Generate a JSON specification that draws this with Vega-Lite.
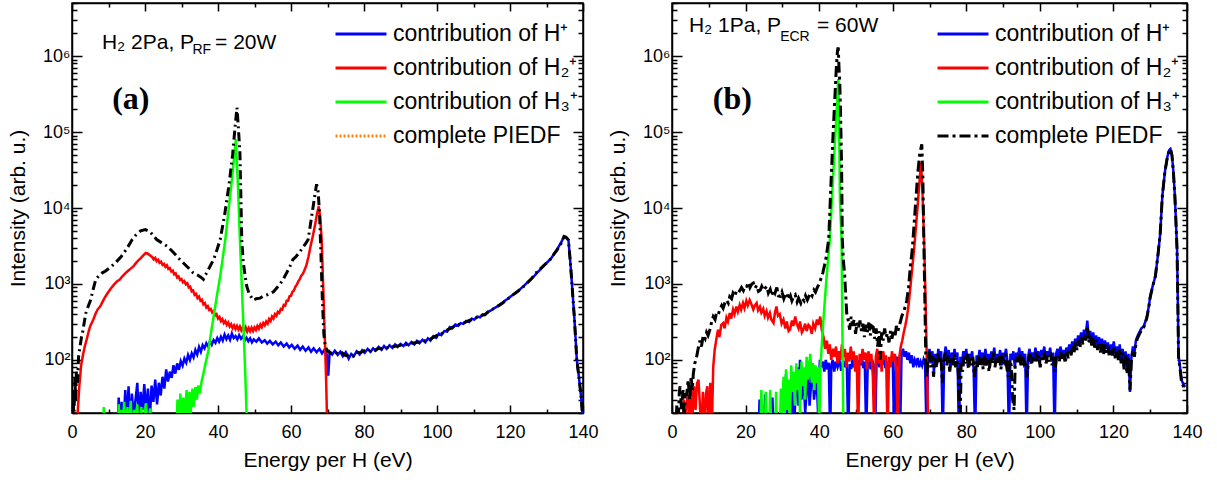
{
"$schema": "https://vega.github.io/schema/vega-lite/v6.json",
"background": "white",
"padding": {"left": 6, "top": 1, "right": 5, "bottom": 5},
"spacing": 89,
"bounds": "flush",
"resolve": {"scale": {"color": "independent"}, "legend": {"color": "independent"}},
"config": {
  "font": "Liberation Sans",
  "view": {"stroke": "black", "strokeWidth": 1.5},
  "axis": {"domainColor": "black", "domainWidth": 1.5, "tickColor": "black", "tickWidth": 1.5, "labelColor": "black", "titleColor": "black", "labelFont": "Liberation Sans", "titleFont": "Liberation Sans", "labelFontSize": 18, "titleFontSize": 21, "titleFontWeight": "normal", "grid": false, "labelOverlap": false, "labelFlush": false},
  "legend": {"labelFont": "Liberation Sans", "labelFontSize": 23, "labelColor": "black", "symbolType": "stroke", "symbolSize": 2600, "symbolStrokeWidth": 3, "symbolOpacity": 1, "labelOffset": 5, "rowPadding": 4, "clipHeight": 30, "padding": 0, "labelLimit": 400}
},
"datasets": {
"aH1": [{"x":12.4,"y":10},{"x":12.8,"y":32},{"x":13.1,"y":11},{"x":13.6,"y":28},{"x":14.0,"y":10},{"x":14.6,"y":40},{"x":15.0,"y":14},{"x":15.5,"y":45},{"x":15.9,"y":12},{"x":16.4,"y":36},{"x":16.9,"y":18},{"x":17.4,"y":30},{"x":17.9,"y":50},{"x":18.3,"y":15},{"x":18.8,"y":38},{"x":19.3,"y":22},{"x":19.8,"y":48},{"x":20.3,"y":20},{"x":20.8,"y":42},{"x":21.3,"y":16},{"x":21.8,"y":46},{"x":22.3,"y":28},{"x":22.8,"y":55},{"x":23.3,"y":26},{"x":23.8,"y":50},{"x":24.3,"y":34},{"x":24.8,"y":60},{"x":25.3,"y":42},{"x":25.8,"y":75},{"x":26.3,"y":52},{"x":26.8,"y":70},{"x":27.3,"y":58},{"x":27.8,"y":85},{"x":28.3,"y":66},{"x":28.8,"y":90},{"x":29.3,"y":74},{"x":29.8,"y":96},{"x":30.3,"y":84},{"x":30.8,"y":104},{"x":31.3,"y":92},{"x":31.8,"y":116},{"x":32.3,"y":100},{"x":32.8,"y":122},{"x":33.3,"y":108},{"x":33.8,"y":135},{"x":34.3,"y":118},{"x":34.8,"y":148},{"x":35.3,"y":128},{"x":35.8,"y":156},{"x":36.3,"y":142},{"x":36.8,"y":166},{"x":37.3,"y":150},{"x":37.8,"y":176},{"x":38.3,"y":158},{"x":38.8,"y":182},{"x":39.3,"y":168},{"x":39.8,"y":194},{"x":40.3,"y":174},{"x":40.8,"y":202},{"x":41.3,"y":180},{"x":41.8,"y":216},{"x":42.3,"y":188},{"x":42.8,"y":210},{"x":43.3,"y":184},{"x":43.8,"y":222},{"x":44.3,"y":194},{"x":44.8,"y":206},{"x":45.3,"y":186},{"x":45.8,"y":212},{"x":46.3,"y":190},{"x":46.8,"y":204},{"x":47.3,"y":180},{"x":47.8,"y":196},{"x":48.3,"y":176},{"x":48.8,"y":192},{"x":49.3,"y":170},{"x":49.8,"y":186},{"x":50.5,"y":174},{"x":51.2,"y":192},{"x":52.0,"y":170},{"x":52.8,"y":182},{"x":53.5,"y":164},{"x":54.2,"y":178},{"x":55.0,"y":160},{"x":55.8,"y":174},{"x":56.5,"y":156},{"x":57.2,"y":170},{"x":58.0,"y":150},{"x":58.8,"y":164},{"x":59.5,"y":146},{"x":60.2,"y":158},{"x":61.0,"y":140},{"x":61.8,"y":154},{"x":62.5,"y":136},{"x":63.2,"y":150},{"x":64.0,"y":132},{"x":64.8,"y":146},{"x":65.5,"y":128},{"x":66.2,"y":142},{"x":67.0,"y":126},{"x":67.8,"y":140},{"x":68.5,"y":122},{"x":69.2,"y":136},{"x":69.8,"y":118},{"x":70.2,"y":62},{"x":70.6,"y":128},{"x":71.3,"y":118},{"x":72.0,"y":132},{"x":72.8,"y":116},{"x":73.5,"y":128},{"x":74.2,"y":112},{"x":75.0,"y":126},{"x":75.8,"y":104},{"x":76.5,"y":120},{"x":77.2,"y":112},{"x":78.0,"y":130},{"x":78.8,"y":118},{"x":79.5,"y":134},{"x":80.2,"y":124},{"x":81.0,"y":140},{"x":81.8,"y":128},{"x":82.5,"y":142},{"x":83.2,"y":132},{"x":84.0,"y":148},{"x":84.8,"y":136},{"x":85.5,"y":152},{"x":86.2,"y":140},{"x":87.0,"y":156},{"x":87.8,"y":144},{"x":88.5,"y":160},{"x":89.2,"y":148},{"x":90.0,"y":162},{"x":90.8,"y":152},{"x":91.5,"y":168},{"x":92.2,"y":156},{"x":93.0,"y":172},{"x":93.8,"y":160},{"x":94.5,"y":178},{"x":95.2,"y":166},{"x":96.0,"y":184},{"x":96.8,"y":170},{"x":97.5,"y":192},{"x":98.2,"y":180},{"x":99.0,"y":206},{"x":99.8,"y":196},{"x":100.5,"y":222},{"x":101.2,"y":212},{"x":102.0,"y":240},{"x":102.8,"y":236},{"x":103.5,"y":270},{"x":104.2,"y":262},{"x":105.0,"y":292},{"x":105.8,"y":282},{"x":106.5,"y":305},{"x":107.2,"y":298},{"x":108.0,"y":326},{"x":108.8,"y":316},{"x":109.5,"y":348},{"x":110.2,"y":340},{"x":111.0,"y":372},{"x":111.8,"y":364},{"x":112.5,"y":398},{"x":113.2,"y":392},{"x":114.0,"y":430},{"x":114.8,"y":448},{"x":115.5,"y":475},{"x":116.2,"y":495},{"x":117.0,"y":528},{"x":117.8,"y":560},{"x":118.5,"y":598},{"x":119.2,"y":630},{"x":120.0,"y":672},{"x":120.8,"y":720},{"x":121.5,"y":765},{"x":122.2,"y":805},{"x":123.0,"y":875},{"x":123.8,"y":945},{"x":124.5,"y":1015},{"x":125.2,"y":1095},{"x":126.0,"y":1195},{"x":126.8,"y":1300},{"x":127.5,"y":1420},{"x":128.2,"y":1530},{"x":129.0,"y":1680},{"x":129.8,"y":1850},{"x":130.5,"y":1990},{"x":131.2,"y":2150},{"x":132.0,"y":2450},{"x":132.8,"y":2800},{"x":133.5,"y":3200},{"x":134.2,"y":3650},{"x":134.8,"y":4250},{"x":135.3,"y":4150},{"x":135.7,"y":3950},{"x":136.0,"y":3800},{"x":136.4,"y":2300},{"x":136.8,"y":1300},{"x":137.2,"y":700},{"x":137.6,"y":380},{"x":138.0,"y":180},{"x":138.3,"y":100},{"x":138.7,"y":70},{"x":139.1,"y":48},{"x":139.5,"y":32},{"x":139.9,"y":18}],
"aH2": [{"x":1.2,"y":10},{"x":1.6,"y":22},{"x":2.0,"y":45},{"x":2.5,"y":85},{"x":3.1,"y":122},{"x":3.5,"y":150},{"x":4.0,"y":184},{"x":4.5,"y":230},{"x":5.0,"y":280},{"x":5.8,"y":336},{"x":6.5,"y":410},{"x":7.0,"y":460},{"x":7.7,"y":505},{"x":8.5,"y":600},{"x":9.2,"y":690},{"x":10.0,"y":790},{"x":10.7,"y":880},{"x":11.5,"y":980},{"x":12.3,"y":1080},{"x":13.1,"y":1140},{"x":13.8,"y":1260},{"x":14.6,"y":1380},{"x":15.3,"y":1480},{"x":16.0,"y":1580},{"x":16.8,"y":1700},{"x":17.5,"y":1880},{"x":18.2,"y":2050},{"x":18.9,"y":2200},{"x":19.6,"y":2400},{"x":20.2,"y":2560},{"x":20.8,"y":2500},{"x":21.5,"y":2350},{"x":22.0,"y":2250},{"x":22.4,"y":2100},{"x":22.8,"y":2200},{"x":23.2,"y":2000},{"x":23.6,"y":2080},{"x":24.0,"y":1900},{"x":24.4,"y":1960},{"x":24.8,"y":1780},{"x":25.2,"y":1840},{"x":25.6,"y":1680},{"x":26.0,"y":1760},{"x":26.4,"y":1580},{"x":26.8,"y":1620},{"x":27.2,"y":1460},{"x":27.6,"y":1500},{"x":28.0,"y":1340},{"x":28.4,"y":1380},{"x":28.8,"y":1220},{"x":29.2,"y":1260},{"x":29.6,"y":1130},{"x":30.0,"y":1160},{"x":30.4,"y":1050},{"x":30.8,"y":1090},{"x":31.2,"y":990},{"x":31.6,"y":1020},{"x":32.0,"y":900},{"x":32.4,"y":920},{"x":32.8,"y":800},{"x":33.2,"y":820},{"x":33.6,"y":720},{"x":34.0,"y":740},{"x":34.4,"y":650},{"x":34.8,"y":680},{"x":35.2,"y":600},{"x":35.6,"y":620},{"x":36.0,"y":540},{"x":36.4,"y":560},{"x":36.8,"y":490},{"x":37.2,"y":510},{"x":37.6,"y":455},{"x":38.0,"y":470},{"x":38.4,"y":420},{"x":38.8,"y":440},{"x":39.2,"y":385},{"x":39.6,"y":400},{"x":40.0,"y":350},{"x":40.4,"y":368},{"x":40.8,"y":325},{"x":41.2,"y":345},{"x":41.6,"y":305},{"x":42.0,"y":325},{"x":42.4,"y":290},{"x":42.8,"y":310},{"x":43.2,"y":275},{"x":43.6,"y":295},{"x":44.0,"y":262},{"x":44.4,"y":285},{"x":44.8,"y":255},{"x":45.2,"y":280},{"x":45.6,"y":250},{"x":46.0,"y":275},{"x":46.4,"y":245},{"x":46.8,"y":270},{"x":47.2,"y":240},{"x":47.6,"y":268},{"x":48.0,"y":236},{"x":48.4,"y":262},{"x":48.8,"y":238},{"x":49.2,"y":265},{"x":49.6,"y":240},{"x":50.0,"y":268},{"x":50.4,"y":248},{"x":50.8,"y":280},{"x":51.2,"y":258},{"x":51.6,"y":292},{"x":52.0,"y":270},{"x":52.4,"y":305},{"x":52.8,"y":285},{"x":53.2,"y":320},{"x":53.6,"y":300},{"x":54.0,"y":345},{"x":54.4,"y":325},{"x":54.8,"y":372},{"x":55.2,"y":350},{"x":55.6,"y":400},{"x":56.0,"y":380},{"x":56.4,"y":430},{"x":56.8,"y":415},{"x":57.2,"y":470},{"x":57.6,"y":460},{"x":58.0,"y":530},{"x":58.4,"y":520},{"x":58.8,"y":600},{"x":59.2,"y":600},{"x":59.6,"y":690},{"x":60.0,"y":700},{"x":60.4,"y":790},{"x":60.8,"y":820},{"x":61.2,"y":920},{"x":61.6,"y":980},{"x":62.0,"y":1080},{"x":62.4,"y":1160},{"x":62.8,"y":1280},{"x":63.2,"y":1350},{"x":63.6,"y":1480},{"x":64.2,"y":1750},{"x":64.8,"y":2300},{"x":65.4,"y":3200},{"x":66.0,"y":4300},{"x":66.6,"y":6000},{"x":67.1,"y":8300},{"x":67.6,"y":10500},{"x":68.0,"y":7500},{"x":68.4,"y":3800},{"x":68.8,"y":1000},{"x":69.2,"y":250},{"x":69.6,"y":60},{"x":69.9,"y":15}],
"aH3": [{"x":8.5,"y":10},{"x":8.7,"y":24},{"x":8.9,"y":10},{"x":12.6,"y":10},{"x":12.8,"y":26},{"x":13.1,"y":10},{"x":13.5,"y":22},{"x":13.8,"y":10},{"x":14.3,"y":28},{"x":14.6,"y":10},{"x":15.2,"y":24},{"x":15.5,"y":10},{"x":16.1,"y":29},{"x":16.4,"y":10},{"x":17.0,"y":22},{"x":17.3,"y":10},{"x":17.9,"y":26},{"x":18.2,"y":10},{"x":19.0,"y":24},{"x":19.3,"y":10},{"x":20.3,"y":27},{"x":20.6,"y":10},{"x":21.4,"y":23},{"x":21.7,"y":10},{"x":28.6,"y":10},{"x":28.9,"y":30},{"x":29.2,"y":12},{"x":29.7,"y":36},{"x":30.0,"y":14},{"x":30.5,"y":32},{"x":30.8,"y":16},{"x":31.4,"y":40},{"x":31.7,"y":18},{"x":32.2,"y":38},{"x":32.5,"y":20},{"x":33.0,"y":42},{"x":33.3,"y":24},{"x":33.8,"y":44},{"x":34.2,"y":30},{"x":34.6,"y":46},{"x":35.0,"y":36},{"x":35.5,"y":52},{"x":36.0,"y":66},{"x":36.7,"y":95},{"x":37.4,"y":135},{"x":38.1,"y":230},{"x":38.8,"y":372},{"x":39.7,"y":700},{"x":40.6,"y":1260},{"x":41.3,"y":2200},{"x":42.0,"y":3840},{"x":43.0,"y":10500},{"x":44.0,"y":29000},{"x":44.9,"y":80000},{"x":45.5,"y":18000},{"x":46.0,"y":3840},{"x":46.5,"y":1000},{"x":47.0,"y":260},{"x":47.5,"y":60},{"x":47.9,"y":15}],
"aT": [{"x":0.0,"y":10},{"x":0.3,"y":40},{"x":0.5,"y":15},{"x":0.8,"y":60},{"x":1.0,"y":28},{"x":1.2,"y":70},{"x":1.5,"y":50},{"x":1.8,"y":110},{"x":2.2,"y":150},{"x":2.6,"y":200},{"x":2.9,"y":230},{"x":3.4,"y":320},{"x":3.8,"y":414},{"x":4.4,"y":500},{"x":5.1,"y":614},{"x":5.8,"y":850},{"x":6.5,"y":1140},{"x":7.5,"y":1300},{"x":8.3,"y":1400},{"x":9.1,"y":1470},{"x":10.5,"y":1650},{"x":11.9,"y":1900},{"x":13.5,"y":2300},{"x":15.0,"y":2900},{"x":16.5,"y":3840},{"x":17.5,"y":4400},{"x":18.8,"y":5000},{"x":20.1,"y":5200},{"x":21.3,"y":4900},{"x":22.2,"y":4400},{"x":23.2,"y":3840},{"x":24.5,"y":3500},{"x":26.0,"y":3160},{"x":27.8,"y":2600},{"x":29.6,"y":2090},{"x":31.5,"y":1700},{"x":33.2,"y":1400},{"x":34.5,"y":1300},{"x":35.3,"y":1230},{"x":36.0,"y":1150},{"x":36.5,"y":1300},{"x":36.9,"y":1400},{"x":37.8,"y":1700},{"x":38.8,"y":2090},{"x":39.7,"y":2800},{"x":40.6,"y":3840},{"x":41.8,"y":8000},{"x":43.0,"y":20000},{"x":44.0,"y":50000},{"x":44.7,"y":120000},{"x":45.2,"y":210000},{"x":45.6,"y":110000},{"x":46.0,"y":54000},{"x":46.3,"y":12000},{"x":46.5,"y":3840},{"x":46.9,"y":2000},{"x":47.4,"y":1300},{"x":47.9,"y":930},{"x":48.5,"y":750},{"x":49.6,"y":614},{"x":50.5,"y":640},{"x":51.5,"y":650},{"x":52.5,"y":700},{"x":53.5,"y":720},{"x":54.5,"y":760},{"x":55.2,"y":790},{"x":56.2,"y":900},{"x":57.0,"y":1000},{"x":57.8,"y":1140},{"x":58.8,"y":1400},{"x":59.7,"y":1700},{"x":60.5,"y":2090},{"x":61.4,"y":2300},{"x":62.2,"y":2560},{"x":63.1,"y":2950},{"x":64.0,"y":3400},{"x":64.7,"y":3840},{"x":65.5,"y":6900},{"x":66.3,"y":12400},{"x":67.0,"y":20500},{"x":67.4,"y":17000},{"x":67.8,"y":9000},{"x":68.2,"y":2500},{"x":68.6,"y":600},{"x":69.0,"y":220},{"x":69.4,"y":150},{"x":70.0,"y":130},{"x":71,"y":122},{"x":72,"y":128},{"x":73,"y":118},{"x":74,"y":124},{"x":75,"y":114},{"x":76,"y":118},{"x":77,"y":112},{"x":78,"y":126},{"x":79,"y":124},{"x":80,"y":132},{"x":81,"y":128},{"x":82,"y":136},{"x":83,"y":134},{"x":84,"y":142},{"x":85,"y":140},{"x":86,"y":146},{"x":87,"y":146},{"x":88,"y":150},{"x":89,"y":152},{"x":90,"y":156},{"x":91,"y":158},{"x":92,"y":160},{"x":93,"y":166},{"x":94,"y":168},{"x":95,"y":172},{"x":96,"y":176},{"x":97,"y":180},{"x":98,"y":186},{"x":99,"y":198},{"x":100,"y":210},{"x":101,"y":218},{"x":102,"y":234},{"x":103,"y":250},{"x":104,"y":264},{"x":105,"y":284},{"x":106,"y":292},{"x":107,"y":300},{"x":108,"y":318},{"x":109,"y":334},{"x":110,"y":342},{"x":111,"y":364},{"x":112,"y":382},{"x":113,"y":392},{"x":114,"y":428},{"x":115,"y":458},{"x":116,"y":488},{"x":117,"y":522},{"x":118,"y":562},{"x":119,"y":615},{"x":120,"y":668},{"x":121,"y":730},{"x":122,"y":790},{"x":123,"y":865},{"x":124,"y":950},{"x":125,"y":1060},{"x":126,"y":1190},{"x":127,"y":1380},{"x":128,"y":1530},{"x":129,"y":1700},{"x":130,"y":1880},{"x":131,"y":2100},{"x":132,"y":2450},{"x":133,"y":2850},{"x":134,"y":3400},{"x":134.8,"y":4200},{"x":135.3,"y":4150},{"x":135.7,"y":3950},{"x":136.0,"y":3800},{"x":136.4,"y":2300},{"x":136.8,"y":1300},{"x":137.2,"y":700},{"x":137.6,"y":380},{"x":138.0,"y":180},{"x":138.3,"y":100},{"x":138.7,"y":70},{"x":139.1,"y":48},{"x":139.5,"y":32},{"x":139.9,"y":18}],
"bH1": [{"x":23.5,"y":10},{"x":23.8,"y":30},{"x":24.1,"y":10},{"x":25.0,"y":10},{"x":25.3,"y":35},{"x":25.6,"y":10},{"x":27.0,"y":10},{"x":27.3,"y":32},{"x":27.6,"y":10},{"x":29.8,"y":10},{"x":30.1,"y":40},{"x":30.4,"y":12},{"x":31.0,"y":65},{"x":31.3,"y":15},{"x":32.0,"y":45},{"x":32.3,"y":12},{"x":33.0,"y":55},{"x":33.3,"y":18},{"x":34.0,"y":80},{"x":34.4,"y":25},{"x":34.8,"y":100},{"x":35.2,"y":30},{"x":35.8,"y":60},{"x":36.2,"y":20},{"x":37.0,"y":70},{"x":37.4,"y":25},{"x":38.2,"y":90},{"x":38.6,"y":30},{"x":39.3,"y":60},{"x":39.7,"y":20},{"x":40.2,"y":100},{"x":40.6,"y":80},{"x":41.0,"y":95},{"x":41.4,"y":70},{"x":41.8,"y":100},{"x":42.2,"y":75},{"x":42.6,"y":92},{"x":43.0,"y":10},{"x":43.3,"y":85},{"x":43.7,"y":100},{"x":44.1,"y":70},{"x":44.5,"y":95},{"x":45.0,"y":80},{"x":45.5,"y":100},{"x":46.0,"y":72},{"x":46.5,"y":98},{"x":47.0,"y":80},{"x":47.5,"y":104},{"x":47.9,"y":10},{"x":48.3,"y":88},{"x":48.7,"y":76},{"x":49.1,"y":102},{"x":49.5,"y":80},{"x":50.0,"y":96},{"x":50.4,"y":70},{"x":50.8,"y":100},{"x":51.2,"y":85},{"x":51.6,"y":110},{"x":52.0,"y":78},{"x":52.4,"y":95},{"x":52.8,"y":10},{"x":53.2,"y":90},{"x":53.6,"y":105},{"x":54.0,"y":75},{"x":54.4,"y":100},{"x":54.8,"y":85},{"x":55.2,"y":10},{"x":55.6,"y":92},{"x":56.0,"y":108},{"x":56.4,"y":80},{"x":56.8,"y":100},{"x":57.2,"y":86},{"x":57.6,"y":112},{"x":58.0,"y":78},{"x":58.4,"y":95},{"x":58.8,"y":70},{"x":59.2,"y":100},{"x":59.6,"y":84},{"x":60.0,"y":104},{"x":60.4,"y":10},{"x":60.8,"y":90},{"x":61.2,"y":110},{"x":61.6,"y":80},{"x":62.0,"y":10},{"x":62.4,"y":120},{"x":62.8,"y":140},{"x":63.2,"y":110},{"x":63.6,"y":130},{"x":64.0,"y":100},{"x":64.4,"y":125},{"x":64.8,"y":90},{"x":65.2,"y":115},{"x":65.6,"y":80},{"x":66.0,"y":100},{"x":66.4,"y":88},{"x":66.8,"y":106},{"x":67.2,"y":80},{"x":67.6,"y":95},{"x":68.0,"y":84},{"x":68.4,"y":102},{"x":68.8,"y":90},{"x":69.2,"y":10},{"x":69.6,"y":96},{"x":70.0,"y":140},{"x":70.4,"y":90},{"x":70.8,"y":130},{"x":71.2,"y":70},{"x":71.6,"y":120},{"x":72.0,"y":85},{"x":72.4,"y":140},{"x":72.8,"y":100},{"x":73.2,"y":130},{"x":73.6,"y":10},{"x":74.0,"y":110},{"x":74.4,"y":150},{"x":74.8,"y":100},{"x":75.2,"y":135},{"x":75.6,"y":80},{"x":76.0,"y":125},{"x":76.4,"y":95},{"x":76.8,"y":140},{"x":77.2,"y":100},{"x":77.6,"y":125},{"x":78.0,"y":10},{"x":78.4,"y":110},{"x":78.8,"y":90},{"x":79.2,"y":130},{"x":79.6,"y":100},{"x":80.0,"y":140},{"x":80.4,"y":85},{"x":80.8,"y":120},{"x":81.2,"y":100},{"x":81.6,"y":130},{"x":82.0,"y":75},{"x":82.4,"y":10},{"x":82.8,"y":115},{"x":83.2,"y":95},{"x":83.6,"y":135},{"x":84.0,"y":100},{"x":84.4,"y":125},{"x":84.8,"y":90},{"x":85.2,"y":140},{"x":85.6,"y":95},{"x":86.0,"y":120},{"x":86.4,"y":80},{"x":86.8,"y":130},{"x":87.2,"y":105},{"x":87.6,"y":145},{"x":88.0,"y":90},{"x":88.4,"y":120},{"x":88.8,"y":100},{"x":89.2,"y":135},{"x":89.6,"y":85},{"x":90.0,"y":125},{"x":90.4,"y":110},{"x":90.8,"y":140},{"x":91.2,"y":95},{"x":91.6,"y":10},{"x":92.0,"y":120},{"x":92.4,"y":100},{"x":92.8,"y":130},{"x":93.2,"y":80},{"x":93.6,"y":125},{"x":94.0,"y":105},{"x":94.4,"y":145},{"x":94.8,"y":90},{"x":95.2,"y":130},{"x":95.6,"y":100},{"x":96.0,"y":120},{"x":96.4,"y":10},{"x":96.8,"y":110},{"x":97.2,"y":140},{"x":97.6,"y":95},{"x":98.0,"y":125},{"x":98.4,"y":100},{"x":98.8,"y":145},{"x":99.2,"y":110},{"x":99.6,"y":130},{"x":100.0,"y":90},{"x":100.4,"y":135},{"x":100.8,"y":115},{"x":101.2,"y":150},{"x":101.6,"y":100},{"x":102.0,"y":130},{"x":102.4,"y":110},{"x":102.8,"y":145},{"x":103.2,"y":95},{"x":103.6,"y":125},{"x":104.0,"y":10},{"x":104.4,"y":120},{"x":104.8,"y":140},{"x":105.2,"y":105},{"x":105.6,"y":150},{"x":106.0,"y":115},{"x":106.4,"y":135},{"x":106.8,"y":100},{"x":107.2,"y":145},{"x":107.6,"y":120},{"x":108.0,"y":160},{"x":108.4,"y":130},{"x":108.8,"y":175},{"x":109.2,"y":140},{"x":109.6,"y":190},{"x":110.0,"y":150},{"x":110.4,"y":210},{"x":110.8,"y":160},{"x":111.2,"y":230},{"x":111.6,"y":170},{"x":112.0,"y":250},{"x":112.4,"y":200},{"x":112.9,"y":330},{"x":113.3,"y":190},{"x":113.7,"y":240},{"x":114.1,"y":170},{"x":114.5,"y":230},{"x":114.9,"y":160},{"x":115.3,"y":210},{"x":115.7,"y":150},{"x":116.1,"y":200},{"x":116.5,"y":140},{"x":116.9,"y":190},{"x":117.3,"y":130},{"x":117.7,"y":180},{"x":118.1,"y":140},{"x":118.5,"y":170},{"x":118.9,"y":120},{"x":119.3,"y":160},{"x":119.7,"y":130},{"x":120.1,"y":175},{"x":120.5,"y":120},{"x":120.9,"y":150},{"x":121.3,"y":110},{"x":121.7,"y":160},{"x":122.1,"y":100},{"x":122.5,"y":140},{"x":122.9,"y":80},{"x":123.3,"y":130},{"x":123.7,"y":70},{"x":124.1,"y":120},{"x":124.5,"y":38},{"x":124.9,"y":110},{"x":125.3,"y":150},{"x":125.7,"y":120},{"x":126.1,"y":180},{"x":126.5,"y":203},{"x":127.0,"y":230},{"x":127.6,"y":260},{"x":128.2,"y":275},{"x":128.7,"y":320},{"x":129.1,"y":372},{"x":129.6,"y":500},{"x":130.0,"y":686},{"x":130.7,"y":950},{"x":131.4,"y":1260},{"x":132.1,"y":2400},{"x":132.7,"y":4500},{"x":133.3,"y":14500},{"x":134.0,"y":30000},{"x":134.7,"y":48000},{"x":135.2,"y":58000},{"x":135.5,"y":60000},{"x":135.9,"y":50000},{"x":136.3,"y":30000},{"x":136.7,"y":14500},{"x":137.0,"y":6500},{"x":137.3,"y":2800},{"x":137.5,"y":600},{"x":137.7,"y":110},{"x":138.0,"y":90},{"x":138.5,"y":55},{"x":139.0,"y":48},{"x":139.5,"y":44}],
"bH2": [{"x":2.8,"y":10},{"x":3.2,"y":30},{"x":3.6,"y":12},{"x":4.0,"y":28},{"x":4.4,"y":35},{"x":4.8,"y":15},{"x":5.2,"y":40},{"x":5.6,"y":20},{"x":6.0,"y":45},{"x":6.4,"y":22},{"x":6.8,"y":49},{"x":7.2,"y":55},{"x":7.6,"y":25},{"x":8.0,"y":10},{"x":8.4,"y":38},{"x":8.8,"y":10},{"x":9.2,"y":35},{"x":9.6,"y":45},{"x":10.0,"y":10},{"x":10.4,"y":50},{"x":10.8,"y":10},{"x":11.2,"y":80},{"x":11.6,"y":135},{"x":12.0,"y":180},{"x":12.5,"y":250},{"x":12.9,"y":200},{"x":13.4,"y":290},{"x":13.9,"y":306},{"x":14.3,"y":260},{"x":14.8,"y":360},{"x":15.2,"y":320},{"x":15.7,"y":414},{"x":16.1,"y":350},{"x":16.6,"y":460},{"x":17.0,"y":400},{"x":17.5,"y":505},{"x":17.9,"y":430},{"x":18.4,"y":530},{"x":18.8,"y":460},{"x":19.3,"y":560},{"x":19.7,"y":480},{"x":20.2,"y":600},{"x":20.6,"y":520},{"x":21.1,"y":614},{"x":21.6,"y":540},{"x":22.1,"y":460},{"x":22.5,"y":520},{"x":23.0,"y":560},{"x":23.4,"y":450},{"x":23.9,"y":500},{"x":24.3,"y":420},{"x":24.8,"y":470},{"x":25.2,"y":380},{"x":25.7,"y":440},{"x":26.1,"y":360},{"x":26.6,"y":414},{"x":27.0,"y":340},{"x":27.6,"y":306},{"x":28.0,"y":420},{"x":28.4,"y":505},{"x":28.8,"y":380},{"x":29.3,"y":400},{"x":29.8,"y":300},{"x":30.3,"y":340},{"x":30.8,"y":260},{"x":31.2,"y":320},{"x":31.7,"y":240},{"x":32.1,"y":250},{"x":32.6,"y":330},{"x":33.0,"y":280},{"x":33.5,"y":372},{"x":33.9,"y":300},{"x":34.4,"y":260},{"x":34.8,"y":320},{"x":35.3,"y":230},{"x":35.7,"y":250},{"x":36.2,"y":300},{"x":36.6,"y":240},{"x":37.1,"y":290},{"x":37.5,"y":275},{"x":38.0,"y":220},{"x":38.4,"y":300},{"x":38.9,"y":260},{"x":39.4,"y":340},{"x":39.8,"y":290},{"x":40.3,"y":372},{"x":40.7,"y":250},{"x":41.2,"y":200},{"x":41.6,"y":140},{"x":42.1,"y":180},{"x":42.5,"y":120},{"x":42.9,"y":160},{"x":43.3,"y":100},{"x":43.8,"y":140},{"x":44.2,"y":110},{"x":44.6,"y":150},{"x":45.0,"y":90},{"x":45.4,"y":130},{"x":45.8,"y":100},{"x":46.2,"y":160},{"x":46.6,"y":110},{"x":47.0,"y":140},{"x":47.4,"y":80},{"x":47.8,"y":125},{"x":48.2,"y":95},{"x":48.6,"y":150},{"x":49.0,"y":100},{"x":49.4,"y":130},{"x":49.8,"y":70},{"x":50.2,"y":115},{"x":50.6,"y":10},{"x":51.0,"y":120},{"x":51.4,"y":90},{"x":51.8,"y":140},{"x":52.2,"y":100},{"x":52.6,"y":125},{"x":53.0,"y":75},{"x":53.4,"y":130},{"x":53.8,"y":95},{"x":54.2,"y":120},{"x":54.6,"y":60},{"x":55.0,"y":10},{"x":55.4,"y":110},{"x":55.8,"y":140},{"x":56.2,"y":90},{"x":56.6,"y":120},{"x":57.0,"y":70},{"x":57.4,"y":130},{"x":57.8,"y":100},{"x":58.2,"y":115},{"x":58.6,"y":10},{"x":59.0,"y":110},{"x":59.4,"y":80},{"x":59.8,"y":130},{"x":60.2,"y":95},{"x":60.6,"y":120},{"x":61.0,"y":70},{"x":61.4,"y":10},{"x":61.8,"y":110},{"x":62.2,"y":150},{"x":62.6,"y":180},{"x":63.0,"y":230},{"x":63.4,"y":280},{"x":63.8,"y":350},{"x":64.3,"y":520},{"x":64.8,"y":900},{"x":65.3,"y":1600},{"x":65.8,"y":2800},{"x":66.3,"y":5500},{"x":66.8,"y":11000},{"x":67.3,"y":23000},{"x":67.7,"y":40000},{"x":68.1,"y":16000},{"x":68.6,"y":2800},{"x":68.9,"y":700},{"x":69.2,"y":150},{"x":69.5,"y":30},{"x":69.7,"y":10}],
"bH3": [{"x":24.0,"y":10},{"x":24.3,"y":40},{"x":24.6,"y":10},{"x":25.2,"y":10},{"x":25.5,"y":38},{"x":25.8,"y":10},{"x":26.4,"y":10},{"x":26.7,"y":40},{"x":27.0,"y":10},{"x":28.0,"y":10},{"x":28.3,"y":38},{"x":28.6,"y":10},{"x":29.3,"y":10},{"x":29.6,"y":42},{"x":29.9,"y":12},{"x":30.3,"y":60},{"x":30.6,"y":15},{"x":31.0,"y":75},{"x":31.3,"y":22},{"x":31.7,"y":55},{"x":32.0,"y":12},{"x":32.4,"y":85},{"x":32.7,"y":38},{"x":33.1,"y":70},{"x":33.4,"y":25},{"x":33.8,"y":90},{"x":34.1,"y":40},{"x":34.5,"y":75},{"x":34.8,"y":20},{"x":35.2,"y":95},{"x":35.5,"y":45},{"x":35.9,"y":80},{"x":36.2,"y":30},{"x":36.6,"y":110},{"x":36.9,"y":55},{"x":37.3,"y":90},{"x":37.6,"y":120},{"x":38.0,"y":50},{"x":38.3,"y":90},{"x":38.7,"y":40},{"x":39.0,"y":85},{"x":39.4,"y":50},{"x":39.7,"y":80},{"x":40.0,"y":12},{"x":40.4,"y":90},{"x":41.1,"y":306},{"x":42.0,"y":1200},{"x":42.9,"y":3840},{"x":43.6,"y":17000},{"x":44.3,"y":74000},{"x":44.8,"y":210000},{"x":45.2,"y":500000},{"x":45.4,"y":150000},{"x":45.65,"y":13000},{"x":46.1,"y":3840},{"x":46.3,"y":300},{"x":46.45,"y":60},{"x":46.6,"y":10}],
"bT": [{"x":1.0,"y":10},{"x":1.3,"y":25},{"x":1.6,"y":12},{"x":2.0,"y":38},{"x":2.2,"y":45},{"x":2.6,"y":22},{"x":3.0,"y":40},{"x":3.3,"y":15},{"x":3.6,"y":35},{"x":4.0,"y":35},{"x":4.4,"y":55},{"x":4.8,"y":30},{"x":5.2,"y":60},{"x":5.5,"y":40},{"x":5.8,"y":66},{"x":6.2,"y":90},{"x":6.7,"y":110},{"x":7.1,"y":140},{"x":7.6,"y":180},{"x":8.0,"y":150},{"x":8.5,"y":210},{"x":9.0,"y":190},{"x":9.4,"y":230},{"x":9.8,"y":210},{"x":10.3,"y":250},{"x":10.8,"y":320},{"x":11.2,"y":372},{"x":11.7,"y":340},{"x":12.1,"y":420},{"x":12.6,"y":400},{"x":13.0,"y":460},{"x":13.5,"y":520},{"x":13.9,"y":480},{"x":14.4,"y":570},{"x":14.8,"y":614},{"x":15.3,"y":560},{"x":15.7,"y":680},{"x":16.2,"y":640},{"x":16.6,"y":760},{"x":17.1,"y":700},{"x":17.5,"y":800},{"x":18.0,"y":760},{"x":18.5,"y":830},{"x":18.9,"y":900},{"x":19.4,"y":820},{"x":19.9,"y":950},{"x":20.3,"y":930},{"x":20.8,"y":1050},{"x":21.2,"y":900},{"x":21.7,"y":1000},{"x":22.1,"y":1030},{"x":22.6,"y":880},{"x":23.0,"y":960},{"x":23.5,"y":800},{"x":24.0,"y":830},{"x":24.4,"y":930},{"x":24.9,"y":820},{"x":25.3,"y":880},{"x":25.8,"y":930},{"x":26.2,"y":760},{"x":26.7,"y":850},{"x":27.1,"y":700},{"x":27.6,"y":830},{"x":28.0,"y":760},{"x":28.5,"y":900},{"x":28.9,"y":700},{"x":29.5,"y":686},{"x":29.9,"y":780},{"x":30.4,"y":640},{"x":30.8,"y":720},{"x":31.3,"y":760},{"x":31.7,"y":620},{"x":32.2,"y":700},{"x":32.6,"y":600},{"x":33.1,"y":686},{"x":33.5,"y":720},{"x":34.0,"y":580},{"x":34.4,"y":650},{"x":35.0,"y":560},{"x":35.4,"y":640},{"x":35.9,"y":600},{"x":36.3,"y":700},{"x":36.8,"y":614},{"x":37.2,"y":680},{"x":37.7,"y":760},{"x":38.1,"y":700},{"x":38.6,"y":830},{"x":39.0,"y":780},{"x":39.5,"y":900},{"x":40.0,"y":1000},{"x":40.4,"y":1140},{"x":41.0,"y":1400},{"x":41.8,"y":2090},{"x":42.6,"y":3840},{"x":43.2,"y":20000},{"x":43.8,"y":97000},{"x":44.3,"y":300000},{"x":44.7,"y":740000},{"x":45.0,"y":1200000},{"x":45.2,"y":1300000},{"x":45.4,"y":700000},{"x":45.6,"y":450000},{"x":45.8,"y":200000},{"x":46.1,"y":36000},{"x":46.3,"y":3840},{"x":46.6,"y":2000},{"x":46.9,"y":1400},{"x":47.5,"y":410},{"x":47.9,"y":330},{"x":48.3,"y":250},{"x":48.7,"y":370},{"x":49.1,"y":280},{"x":49.5,"y":340},{"x":49.9,"y":220},{"x":50.3,"y":310},{"x":50.7,"y":260},{"x":51.1,"y":330},{"x":51.5,"y":240},{"x":51.9,"y":300},{"x":52.3,"y":200},{"x":52.7,"y":290},{"x":53.1,"y":230},{"x":53.5,"y":310},{"x":53.9,"y":210},{"x":54.3,"y":280},{"x":54.7,"y":270},{"x":55.1,"y":190},{"x":55.5,"y":260},{"x":55.9,"y":150},{"x":56.3,"y":240},{"x":56.6,"y":100},{"x":57.0,"y":230},{"x":57.4,"y":180},{"x":57.8,"y":260},{"x":58.2,"y":200},{"x":58.6,"y":225},{"x":59.0,"y":170},{"x":59.4,"y":240},{"x":59.8,"y":190},{"x":60.2,"y":250},{"x":60.6,"y":200},{"x":61.0,"y":280},{"x":61.4,"y":240},{"x":62.0,"y":306},{"x":62.5,"y":380},{"x":63.0,"y":430},{"x":63.4,"y":505},{"x":63.8,"y":600},{"x":64.3,"y":900},{"x":64.8,"y":1700},{"x":65.3,"y":2800},{"x":65.8,"y":6000},{"x":66.3,"y":13000},{"x":66.8,"y":28000},{"x":67.3,"y":50000},{"x":67.9,"y":69000},{"x":68.2,"y":25000},{"x":68.5,"y":2800},{"x":68.8,"y":400},{"x":69.0,"y":100},{"x":69.2,"y":60},{"x":69.5,"y":90},{"x":69.9,"y":130},{"x":70.3,"y":80},{"x":70.7,"y":115},{"x":71.1,"y":60},{"x":71.5,"y":105},{"x":71.9,"y":80},{"x":72.3,"y":120},{"x":72.7,"y":90},{"x":73.1,"y":110},{"x":73.5,"y":50},{"x":73.9,"y":100},{"x":74.3,"y":125},{"x":74.7,"y":85},{"x":75.1,"y":115},{"x":75.5,"y":70},{"x":75.9,"y":105},{"x":76.3,"y":85},{"x":76.7,"y":120},{"x":77.1,"y":80},{"x":77.5,"y":100},{"x":77.9,"y":60},{"x":78.3,"y":10},{"x":78.6,"y":90},{"x":79.0,"y":70},{"x":79.4,"y":110},{"x":79.8,"y":90},{"x":80.2,"y":120},{"x":80.6,"y":75},{"x":81.0,"y":105},{"x":81.4,"y":85},{"x":81.8,"y":110},{"x":82.2,"y":60},{"x":82.6,"y":95},{"x":83.0,"y":80},{"x":83.4,"y":115},{"x":83.8,"y":85},{"x":84.2,"y":105},{"x":84.6,"y":75},{"x":85.0,"y":120},{"x":85.4,"y":85},{"x":85.8,"y":100},{"x":86.2,"y":70},{"x":86.6,"y":110},{"x":87.0,"y":90},{"x":87.4,"y":125},{"x":87.8,"y":80},{"x":88.2,"y":105},{"x":88.6,"y":90},{"x":89.0,"y":115},{"x":89.4,"y":75},{"x":89.8,"y":105},{"x":90.2,"y":95},{"x":90.6,"y":120},{"x":91.0,"y":80},{"x":91.4,"y":60},{"x":91.8,"y":100},{"x":92.2,"y":85},{"x":92.6,"y":30},{"x":93.0,"y":22},{"x":93.3,"y":90},{"x":93.7,"y":110},{"x":94.1,"y":90},{"x":94.5,"y":120},{"x":94.9,"y":80},{"x":95.3,"y":110},{"x":95.7,"y":90},{"x":96.1,"y":100},{"x":96.5,"y":60},{"x":96.9,"y":95},{"x":97.3,"y":120},{"x":97.7,"y":85},{"x":98.1,"y":110},{"x":98.5,"y":90},{"x":98.9,"y":125},{"x":99.3,"y":95},{"x":99.7,"y":115},{"x":100.1,"y":80},{"x":100.5,"y":115},{"x":100.9,"y":100},{"x":101.3,"y":130},{"x":101.7,"y":90},{"x":102.1,"y":115},{"x":102.5,"y":95},{"x":102.9,"y":125},{"x":103.3,"y":85},{"x":103.7,"y":110},{"x":104.1,"y":70},{"x":104.5,"y":105},{"x":104.9,"y":120},{"x":105.3,"y":95},{"x":105.7,"y":130},{"x":106.1,"y":100},{"x":106.5,"y":120},{"x":106.9,"y":90},{"x":107.3,"y":130},{"x":107.7,"y":105},{"x":108.1,"y":140},{"x":108.5,"y":115},{"x":108.9,"y":155},{"x":109.3,"y":125},{"x":109.7,"y":170},{"x":110.1,"y":135},{"x":110.5,"y":185},{"x":110.9,"y":145},{"x":111.3,"y":200},{"x":111.7,"y":160},{"x":112.1,"y":220},{"x":112.5,"y":180},{"x":112.9,"y":280},{"x":113.3,"y":170},{"x":113.7,"y":210},{"x":114.1,"y":155},{"x":114.5,"y":200},{"x":114.9,"y":145},{"x":115.3,"y":185},{"x":115.7,"y":135},{"x":116.1,"y":175},{"x":116.5,"y":125},{"x":116.9,"y":165},{"x":117.3,"y":120},{"x":117.7,"y":160},{"x":118.1,"y":125},{"x":118.5,"y":150},{"x":118.9,"y":110},{"x":119.3,"y":140},{"x":119.7,"y":115},{"x":120.1,"y":150},{"x":120.5,"y":105},{"x":120.9,"y":135},{"x":121.3,"y":100},{"x":121.7,"y":140},{"x":122.1,"y":90},{"x":122.5,"y":125},{"x":122.9,"y":75},{"x":123.3,"y":115},{"x":123.7,"y":65},{"x":124.1,"y":105},{"x":124.5,"y":40},{"x":124.9,"y":100},{"x":125.3,"y":135},{"x":125.7,"y":110},{"x":126.1,"y":160},{"x":126.5,"y":190},{"x":127.0,"y":215},{"x":127.6,"y":245},{"x":128.2,"y":265},{"x":128.7,"y":310},{"x":129.1,"y":360},{"x":129.6,"y":490},{"x":130.0,"y":670},{"x":130.7,"y":940},{"x":131.4,"y":1260},{"x":132.1,"y":2400},{"x":132.7,"y":4500},{"x":133.3,"y":14500},{"x":134.0,"y":30000},{"x":134.7,"y":48000},{"x":135.2,"y":58000},{"x":135.5,"y":60000},{"x":135.9,"y":50000},{"x":136.3,"y":30000},{"x":136.7,"y":14500},{"x":137.0,"y":6500},{"x":137.3,"y":2800},{"x":137.5,"y":600},{"x":137.7,"y":110},{"x":138.0,"y":85},{"x":138.5,"y":52},{"x":139.0,"y":45},{"x":139.4,"y":40}]
},
"hconcat": [
{
  "width": 511, "height": 410,
  "resolve": {"axis": {"x": "independent", "y": "independent"}},
  "layer": [
    {"data": {"name": "aH1"}, "mark": {"type": "line", "clip": true, "strokeWidth": 2.5},
     "encoding": {
       "x": {"field": "x", "type": "quantitative", "scale": {"domain": [0, 140], "nice": false, "zero": false},
             "axis": {"orient": "bottom", "values": [0,10,20,30,40,50,60,70,80,90,100,110,120,130,140], "labelExpr": "datum.value % 20 === 0 ? datum.label : ''", "labelFontSize": {"condition": {"test": "datum.value % 20 === 0", "value": 18}, "value": 0}, "tickSize": {"condition": {"test": "datum.value % 20 === 0", "value": -8}, "value": -4}, "labelPadding": 18, "title": "Energy per H (eV)", "titlePadding": 8}},
       "y": {"field": "y", "type": "quantitative", "scale": {"type": "log", "domain": [20, 5000000], "nice": false},
             "axis": {"orient": "left", "values": [20,30,40,50,60,70,80,90,100,200,300,400,500,600,700,800,900,1000,2000,3000,4000,5000,6000,7000,8000,9000,10000,20000,30000,40000,50000,60000,70000,80000,90000,100000,200000,300000,400000,500000,600000,700000,800000,900000,1000000,2000000,3000000,4000000,5000000], "labelExpr": "abs(log(datum.value)/LN10 - round(log(datum.value)/LN10)) < 0.001 ? '10' + substring('⁰¹²³⁴⁵⁶⁷⁸⁹', round(log(datum.value)/LN10), round(log(datum.value)/LN10) + 1) : ''", "labelFontSize": {"condition": {"test": "abs(log(datum.value)/LN10 - round(log(datum.value)/LN10)) < 0.001", "value": 18}, "value": 0}, "tickSize": {"condition": {"test": "abs(log(datum.value)/LN10 - round(log(datum.value)/LN10)) < 0.001", "value": -10}, "value": -5}, "labelPadding": 12, "title": "Intensity (arb. u.)", "titlePadding": 14}},
       "color": {"datum": "contribution of H⁺", "type": "nominal",
                 "scale": {"domain": ["contribution of H⁺", "contribution of H₂⁺", "contribution of H₃⁺", "complete PIEDF"], "range": ["#0000ff", "#ff0000", "#00ff00", "#ff8000"]},
                 "legend": {"orient": "none", "legendX": 262, "legendY": 16, "title": null,
                            "encode": {"symbols": {"update": {"strokeDash": {"signal": "datum.value === 'complete PIEDF' ? [2,2] : [1,0]"}}}}}}
     }},
    {"data": {"name": "aH2"}, "mark": {"type": "line", "clip": true, "strokeWidth": 2.5},
     "encoding": {"x": {"field": "x", "type": "quantitative", "axis": null}, "y": {"field": "y", "type": "quantitative", "axis": null}, "color": {"datum": "contribution of H₂⁺", "type": "nominal"}}},
    {"data": {"name": "aH3"}, "mark": {"type": "line", "clip": true, "strokeWidth": 2.5},
     "encoding": {"x": {"field": "x", "type": "quantitative", "axis": null}, "y": {"field": "y", "type": "quantitative", "axis": null}, "color": {"datum": "contribution of H₃⁺", "type": "nominal"}}},
    {"data": {"name": "aT"}, "mark": {"type": "line", "clip": true, "strokeWidth": 3, "color": "black", "strokeDash": [9, 4, 2, 4]},
     "encoding": {
       "x": {"field": "x", "type": "quantitative", "axis": {"orient": "top", "values": [0,10,20,30,40,50,60,70,80,90,100,110,120,130,140], "labels": false, "tickSize": {"condition": {"test": "datum.value % 20 === 0", "value": -8}, "value": -4}, "title": null}},
       "y": {"field": "y", "type": "quantitative", "axis": {"orient": "right", "values": [20,30,40,50,60,70,80,90,100,200,300,400,500,600,700,800,900,1000,2000,3000,4000,5000,6000,7000,8000,9000,10000,20000,30000,40000,50000,60000,70000,80000,90000,100000,200000,300000,400000,500000,600000,700000,800000,900000,1000000,2000000,3000000,4000000,5000000], "labels": false, "tickSize": {"condition": {"test": "abs(log(datum.value)/LN10 - round(log(datum.value)/LN10)) < 0.001", "value": -10}, "value": -5}, "title": null}}
     }},
    {"data": {"values": [{}]}, "mark": {"type": "text", "text": "H₂ 2Pa, P", "font": "Liberation Sans", "fontSize": 21, "align": "left", "baseline": "alphabetic", "color": "black"},
     "encoding": {"x": {"datum": 8.2, "type": "quantitative", "axis": null}, "y": {"datum": 1240000, "type": "quantitative", "axis": null}}},
    {"data": {"values": [{}]}, "mark": {"type": "text", "text": "RF", "font": "Liberation Sans", "fontSize": 14, "align": "left", "baseline": "alphabetic", "color": "black"},
     "encoding": {"x": {"datum": 33.0, "type": "quantitative", "axis": null}, "y": {"datum": 1060000, "type": "quantitative", "axis": null}}},
    {"data": {"values": [{}]}, "mark": {"type": "text", "text": "= 20W", "font": "Liberation Sans", "fontSize": 21, "align": "left", "baseline": "alphabetic", "color": "black"},
     "encoding": {"x": {"datum": 39.2, "type": "quantitative", "axis": null}, "y": {"datum": 1240000, "type": "quantitative", "axis": null}}},
    {"data": {"values": [{}]}, "mark": {"type": "text", "text": "(a)", "font": "Liberation Serif", "fontSize": 32, "fontWeight": "bold", "align": "left", "baseline": "alphabetic", "color": "black"},
     "encoding": {"x": {"datum": 11.0, "type": "quantitative", "axis": null}, "y": {"datum": 200000, "type": "quantitative", "axis": null}}}
  ]
},
{
  "width": 515, "height": 410,
  "resolve": {"axis": {"x": "independent", "y": "independent"}},
  "layer": [
    {"data": {"name": "bH1"}, "mark": {"type": "line", "clip": true, "strokeWidth": 2.5},
     "encoding": {
       "x": {"field": "x", "type": "quantitative", "scale": {"domain": [0, 140], "nice": false, "zero": false},
             "axis": {"orient": "bottom", "values": [0,10,20,30,40,50,60,70,80,90,100,110,120,130,140], "labelExpr": "datum.value % 20 === 0 ? datum.label : ''", "labelFontSize": {"condition": {"test": "datum.value % 20 === 0", "value": 18}, "value": 0}, "tickSize": {"condition": {"test": "datum.value % 20 === 0", "value": -8}, "value": -4}, "labelPadding": 18, "title": "Energy per H (eV)", "titlePadding": 8}},
       "y": {"field": "y", "type": "quantitative", "scale": {"type": "log", "domain": [20, 5000000], "nice": false},
             "axis": {"orient": "left", "values": [20,30,40,50,60,70,80,90,100,200,300,400,500,600,700,800,900,1000,2000,3000,4000,5000,6000,7000,8000,9000,10000,20000,30000,40000,50000,60000,70000,80000,90000,100000,200000,300000,400000,500000,600000,700000,800000,900000,1000000,2000000,3000000,4000000,5000000], "labelExpr": "abs(log(datum.value)/LN10 - round(log(datum.value)/LN10)) < 0.001 ? '10' + substring('⁰¹²³⁴⁵⁶⁷⁸⁹', round(log(datum.value)/LN10), round(log(datum.value)/LN10) + 1) : ''", "labelFontSize": {"condition": {"test": "abs(log(datum.value)/LN10 - round(log(datum.value)/LN10)) < 0.001", "value": 18}, "value": 0}, "tickSize": {"condition": {"test": "abs(log(datum.value)/LN10 - round(log(datum.value)/LN10)) < 0.001", "value": -10}, "value": -5}, "labelPadding": 12, "title": "Intensity (arb. u.)", "titlePadding": 14}},
       "color": {"datum": "contribution of H⁺", "type": "nominal",
                 "scale": {"domain": ["contribution of H⁺", "contribution of H₂⁺", "contribution of H₃⁺", "complete PIEDF"], "range": ["#0000ff", "#ff0000", "#00ff00", "#000000"]},
                 "legend": {"orient": "none", "legendX": 264, "legendY": 16, "title": null,
                            "encode": {"symbols": {"update": {"strokeDash": {"signal": "datum.value === 'complete PIEDF' ? [11,4,3,4] : [1,0]"}}}}}}
     }},
    {"data": {"name": "bH2"}, "mark": {"type": "line", "clip": true, "strokeWidth": 2.5},
     "encoding": {"x": {"field": "x", "type": "quantitative", "axis": null}, "y": {"field": "y", "type": "quantitative", "axis": null}, "color": {"datum": "contribution of H₂⁺", "type": "nominal"}}},
    {"data": {"name": "bH3"}, "mark": {"type": "line", "clip": true, "strokeWidth": 2.5},
     "encoding": {"x": {"field": "x", "type": "quantitative", "axis": null}, "y": {"field": "y", "type": "quantitative", "axis": null}, "color": {"datum": "contribution of H₃⁺", "type": "nominal"}}},
    {"data": {"name": "bT"}, "mark": {"type": "line", "clip": true, "strokeWidth": 3, "color": "black", "strokeDash": [11, 4, 3, 4]},
     "encoding": {
       "x": {"field": "x", "type": "quantitative", "axis": {"orient": "top", "values": [0,10,20,30,40,50,60,70,80,90,100,110,120,130,140], "labels": false, "tickSize": {"condition": {"test": "datum.value % 20 === 0", "value": -8}, "value": -4}, "title": null}},
       "y": {"field": "y", "type": "quantitative", "axis": {"orient": "right", "values": [20,30,40,50,60,70,80,90,100,200,300,400,500,600,700,800,900,1000,2000,3000,4000,5000,6000,7000,8000,9000,10000,20000,30000,40000,50000,60000,70000,80000,90000,100000,200000,300000,400000,500000,600000,700000,800000,900000,1000000,2000000,3000000,4000000,5000000], "labels": false, "tickSize": {"condition": {"test": "abs(log(datum.value)/LN10 - round(log(datum.value)/LN10)) < 0.001", "value": -10}, "value": -5}, "title": null}}
     }},
    {"data": {"values": [{}]}, "mark": {"type": "text", "text": "H₂ 1Pa, P", "font": "Liberation Sans", "fontSize": 21, "align": "left", "baseline": "alphabetic", "color": "black"},
     "encoding": {"x": {"datum": 4.6, "type": "quantitative", "axis": null}, "y": {"datum": 2070000, "type": "quantitative", "axis": null}}},
    {"data": {"values": [{}]}, "mark": {"type": "text", "text": "ECR", "font": "Liberation Sans", "fontSize": 14, "align": "left", "baseline": "alphabetic", "color": "black"},
     "encoding": {"x": {"datum": 29.4, "type": "quantitative", "axis": null}, "y": {"datum": 1580000, "type": "quantitative", "axis": null}}},
    {"data": {"values": [{}]}, "mark": {"type": "text", "text": "= 60W", "font": "Liberation Sans", "fontSize": 21, "align": "left", "baseline": "alphabetic", "color": "black"},
     "encoding": {"x": {"datum": 39.4, "type": "quantitative", "axis": null}, "y": {"datum": 2070000, "type": "quantitative", "axis": null}}},
    {"data": {"values": [{}]}, "mark": {"type": "text", "text": "(b)", "font": "Liberation Serif", "fontSize": 32, "fontWeight": "bold", "align": "left", "baseline": "alphabetic", "color": "black"},
     "encoding": {"x": {"datum": 11.1, "type": "quantitative", "axis": null}, "y": {"datum": 200000, "type": "quantitative", "axis": null}}}
  ]
}
]
}
